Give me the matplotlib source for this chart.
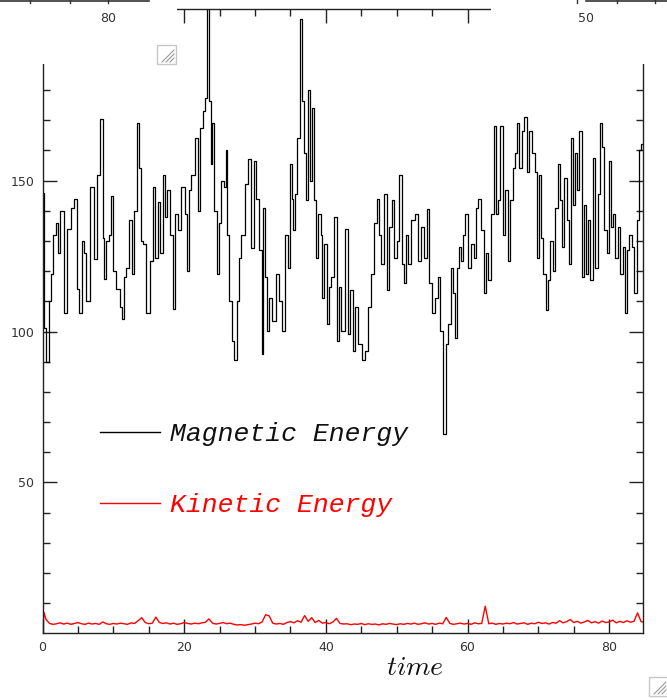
import numpy as np
import matplotlib.pyplot as plt
from matplotlib.patches import Rectangle
from matplotlib.lines import Line2D

# magnetic energy vs time
mag_t = [0.00, 0.35, 0.64, 1.06, 1.34, 1.76, 2.05, 2.19, 2.75, 3.18,
         3.74, 4.30, 4.59, 5.01, 5.43, 5.72, 6.00, 6.42, 6.99, 7.41,
         7.97, 8.40, 8.68, 8.82, 9.24, 9.53, 9.95, 10.09, 10.66, 11.22,
         11.36, 11.64, 12.07, 12.49, 12.77, 13.06, 13.48, 13.76, 14.04, 14.47,
         14.89, 15.45, 15.74, 16.16, 16.44, 16.87, 17.15, 17.57, 17.71, 18.28,
         18.56, 18.98, 19.41, 19.83, 20.39, 20.54, 20.82, 21.24, 21.81, 22.09,
         22.51, 22.79, 23.08, 23.36, 23.64, 23.92, 24.06, 24.49, 24.77, 25.05,
         25.48, 25.76, 26.04, 26.18, 26.61, 26.89, 27.31, 27.59, 27.88, 28.30,
         28.86, 29.29, 29.71, 29.99, 30.42, 30.84, 31.12, 31.26, 31.55, 31.83,
         32.25, 32.67, 33.24, 33.66, 33.94, 34.51, 34.79, 35.07, 35.36, 35.50,
         35.78, 36.06, 36.63, 36.77, 37.05, 37.33, 37.61, 37.90, 38.18, 38.46,
         38.74, 39.17, 39.45, 39.59, 40.01, 40.30, 40.58, 41.00, 41.42, 41.71,
         41.99, 42.41, 42.98, 43.26, 43.68, 43.96, 44.39, 44.81, 45.38, 45.80,
         46.22, 46.65, 47.07, 47.35, 47.64, 48.06, 48.48, 48.77, 49.19, 49.47,
         49.89, 50.18, 50.60, 50.88, 51.16, 51.45, 51.73, 52.29, 52.86, 53.28,
         53.70, 54.13, 54.41, 54.83, 55.12, 55.68, 55.96, 56.39, 56.81, 57.09,
         57.37, 57.94, 58.08, 58.50, 58.64, 58.93, 59.21, 59.49, 59.92, 60.34,
         60.76, 61.04, 61.33, 61.75, 62.17, 62.46, 62.74, 63.16, 63.58, 63.87,
         64.15, 64.43, 64.86, 65.14, 65.56, 65.84, 66.27, 66.55, 66.97, 67.11,
         67.54, 67.82, 68.24, 68.52, 68.95, 69.23, 69.79, 69.94, 70.22, 70.50,
         70.92, 71.21, 71.49, 71.91, 72.19, 72.62, 72.90, 73.32, 73.46, 73.89,
         74.17, 74.45, 74.73, 75.02, 75.30, 75.58, 76.01, 76.29, 76.57, 76.85,
         77.14, 77.56, 77.84, 78.26, 78.55, 78.83, 79.11, 79.53, 79.82, 80.10,
         80.38, 80.66, 81.09, 81.37, 81.79, 82.07, 82.35, 82.64, 83.06, 83.34,
         83.76, 84.04, 84.33, 84.62]
mag_e = [146, 101, 90, 110, 119, 132, 136, 126, 140, 106,
         134, 141, 144, 114, 106, 130, 126, 110, 148, 124,
         152, 170.5, 131, 117.5, 130, 132, 145, 120, 114, 108,
         104, 118, 121, 137, 119, 140, 169, 154, 130, 129,
         106, 123.5, 148, 124.5, 143, 126, 152, 138, 147, 132,
         107.6, 139, 133.5, 148, 139, 120, 147, 152, 164, 140,
         167.5, 173, 177.5, 210, 176.5, 155.6, 169, 140, 119, 136,
         150, 148, 160, 132, 110, 97, 90.4, 110, 124.5, 132,
         149, 157, 127.5, 156.6, 144, 127, 92.7, 141, 118, 100.3,
         111, 103.6, 119, 110, 100.3, 132, 121, 155.6, 144, 133.5,
         145.7, 164, 203.6, 176.5, 159, 143.4, 180, 150, 174, 143.4,
         124.5, 139, 132, 111, 129, 102.6, 114.6, 118, 138, 97,
         114.6, 100.3, 134, 99.3, 113.6, 93.7, 108, 96, 90.4, 93.7,
         108, 119, 136, 144, 132, 122.5, 145.7, 113.6, 134.5, 143.4,
         124.5, 130, 151.7, 122.5, 116, 132, 122.5, 137, 139, 123.5,
         134.5, 124.5, 140.7, 116, 106, 111, 118, 100.3, 66, 96,
         102.6, 121, 112.6, 98, 121, 128, 123.5, 132, 139, 121,
         129, 124.5, 141, 144, 133.5, 112.6, 126, 117, 139, 168,
         139, 143.4, 168, 132, 147, 123.5, 143.4, 154, 159, 169,
         154, 166.5, 171, 153, 166.5, 159, 153, 124.5, 152, 131,
         119, 107, 117, 130, 120, 141, 155.6, 143.4, 128, 151,
         137, 122.5, 164, 142, 159, 147, 166.5, 118, 142, 119,
         137, 117, 157.6, 121, 145.7, 169, 161, 133.5, 126, 156.6,
         134.5, 139, 124.5, 134.5, 119, 128, 106, 127, 132, 128,
         112.6, 137, 160, 162]

# kinetic energy: start-up transient, then samples every 0.5 time units
kin_start_t = [0.0, 0.2]
kin_start_e = [0.0, 7.0]
kin_e = [4.6, 3.3, 3.0, 3.2, 3.5, 3.1, 3.4, 3.0, 3.3, 3.6,
         3.2, 3.0, 3.4, 3.1, 3.3, 3.0, 3.8, 3.2, 3.0, 3.3,
         3.1, 3.4, 3.2, 3.0, 3.5, 3.3, 4.2, 5.2, 3.6, 3.2,
         3.4, 5.4, 3.6, 3.3, 3.5, 3.1, 3.4, 3.0, 3.2, 3.6,
         3.3, 3.1, 3.4, 3.2, 3.5, 3.7, 4.8, 3.4, 3.1, 3.3,
         3.6, 3.2, 3.4, 3.0, 2.8, 2.9, 2.7, 2.9, 3.1, 3.4,
         3.2, 3.8, 6.2, 5.8, 3.4, 3.1, 3.3, 3.0, 3.6, 3.9,
         3.5, 4.2, 3.7, 5.9, 4.0, 5.2, 3.6, 4.3, 3.4, 3.6,
         3.2, 3.8, 5.0, 3.3, 3.1, 3.2, 2.9, 3.1, 3.0, 3.3,
         2.9, 3.2, 3.0, 3.1, 2.8, 3.2, 3.0, 3.3, 3.1, 2.9,
         3.2, 3.0, 3.3, 3.1, 3.4, 3.0, 3.2, 3.5, 3.1, 3.3,
         3.0, 3.4, 3.2, 5.3, 3.3, 3.0, 3.2, 3.4, 3.1, 3.3,
         3.0, 3.5, 3.2, 3.3, 9.0, 3.2, 3.4, 3.0, 3.3, 3.1,
         3.4, 3.2, 3.6, 3.1, 3.3, 3.5, 3.0, 3.4, 3.2, 3.7,
         3.3, 3.5, 3.1, 3.6, 3.4, 4.2, 3.5, 3.9, 4.6, 3.6,
         4.0, 3.4, 3.8, 4.3, 3.5, 3.9, 3.4, 4.1, 3.6, 3.8,
         4.4, 3.5, 4.0, 3.6, 4.2, 3.7, 4.0, 6.8, 3.9, 3.7]
kin_t = kin_start_t + list(np.arange(1, len(kin_e) + 1) * 0.5)
kin_e = kin_start_e + kin_e

xticks = [0, 20, 40, 60, 80]
yticks = [50, 100, 150, 200]

W, H = 667, 698
plt.rcParams['mathtext.fontset'] = 'cm'

fig = plt.figure(figsize=(W / 100, H / 100), dpi=100)
fig.patch.set_facecolor('white')


def fx(x):
    return x / W


def fy(y):
    return 1 - y / H


ax = fig.add_axes([fx(42.5), fy(632.5), fx(642.5) - fx(42.5), fy(8.5) - fy(632.5)])
ax.plot(mag_t, mag_e, color='black', lw=0.9, drawstyle='steps-mid')
ax.plot(kin_t, kin_e, color='red', lw=1.0)
ax.set_xlim(0, 84.7)
ax.set_ylim(0.3, 207)

ax.set_xticks(xticks)
ax.set_xticks(np.arange(0, 85, 5), minor=True)
ax.set_yticks(yticks)
ax.set_yticks(np.arange(10, 207, 10), minor=True)
ax.tick_params(which='both', direction='in', top=True, right=True,
               colors='#222222', labelcolor='#333333', labelsize=9, width=1)
ax.tick_params(which='major', length=10, pad=6)
ax.tick_params(which='minor', length=5)
for s in ax.spines.values():
    s.set_color('#222222')
    s.set_linewidth(1)

# legend drawn by hand
ax.plot([8.1, 16.6], [66.6, 66.6], color='black', lw=1)
ax.plot([8.1, 16.6], [43.1, 43.1], color='red', lw=1)
ax.text(18.0, 66.0, 'Magnetic Energy', color='#111111', fontsize=19,
        family='Liberation Mono', style='italic', va='center', ha='left')
ax.text(18.0, 42.5, 'Kinetic Energy', color='red', fontsize=19,
        family='Liberation Mono', style='italic', va='center', ha='left')

fig.text(fx(415), fy(667), r'$time$', fontsize=20, ha='center', va='center',
         color='#111111')

# strip along the top of the window
for x0, x1 in [(0, 177), (491, W)]:
    fig.add_artist(Rectangle((fx(x0), fy(63.5)), fx(x1) - fx(x0), fy(0) - fy(63.5),
                             transform=fig.transFigure, facecolor='white',
                             edgecolor='none', zorder=5))
for x0, x1 in [(0, 149), (586, W)]:
    fig.add_artist(Line2D([fx(x0), fx(x1)], [fy(0.6), fy(0.6)], color='#333333',
                          lw=1.2, zorder=6))
for xt in [30, 70, 108, 577, 617, 655]:
    fig.add_artist(Line2D([fx(xt), fx(xt)], [fy(0), fy(3)], color='#333333',
                          lw=1, zorder=6))
fig.text(fx(108), fy(19), '80', fontsize=9, color='#333333', ha='center',
         va='center', zorder=6)
fig.text(fx(586), fy(19), '50', fontsize=9, color='#333333', ha='center',
         va='center', zorder=6)

# small resize grips
for gx, gy in [(157, 45), (649, 677)]:
    fig.add_artist(Rectangle((fx(gx), fy(gy + 19)), 19 / W, 19 / H,
                             transform=fig.transFigure, facecolor='white',
                             edgecolor='#c8c8c8', lw=1, zorder=6))
    for d in [5, 9, 13]:
        fig.add_artist(Line2D([fx(gx + d), fx(gx + 17)], [fy(gy + 17), fy(gy + d)],
                              color='#999999', lw=0.8, zorder=7))

fig.savefig('out.png', dpi=100)
